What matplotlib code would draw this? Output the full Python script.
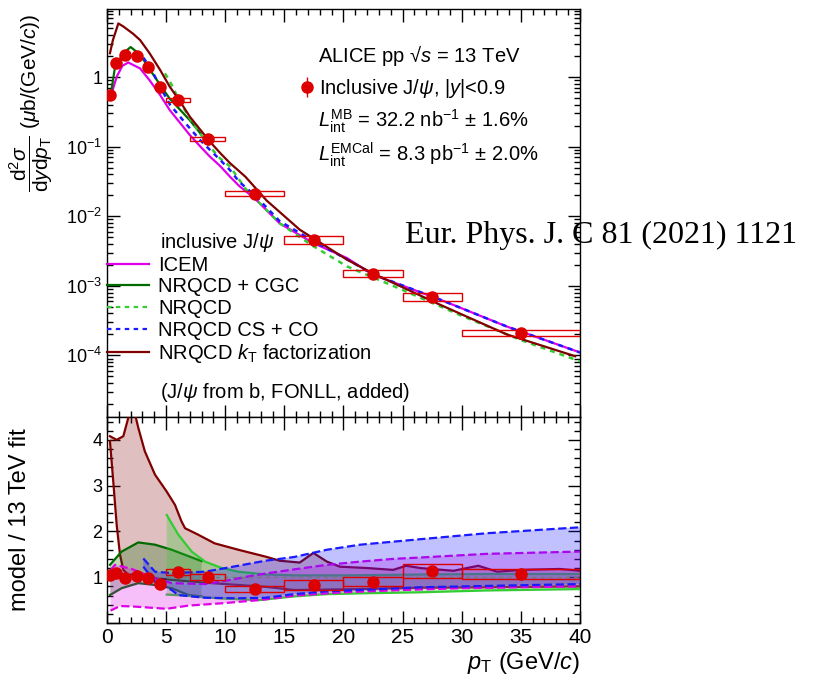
import numpy as np
import matplotlib
matplotlib.use('Agg')
import matplotlib.pyplot as plt
from matplotlib.ticker import MultipleLocator, LogLocator, FuncFormatter, NullFormatter
from matplotlib.patches import Rectangle
from matplotlib.lines import Line2D

plt.rcParams['font.family'] = ['Liberation Sans', 'DejaVu Sans']
plt.rcParams['mathtext.fontset'] = 'custom'
plt.rcParams['mathtext.rm'] = 'Liberation Sans'
plt.rcParams['mathtext.it'] = 'Liberation Sans:italic'
plt.rcParams['mathtext.bf'] = 'Liberation Sans:bold'

# ---- data: inclusive J/psi, pp 13 TeV
pt_lo = np.array([0, 0.5, 1, 2, 3, 4, 5, 7, 10, 15, 20, 25, 30])
pt_hi = np.array([0.5, 1, 2, 3, 4, 5, 7, 10, 15, 20, 25, 30, 40])
pt = np.array([0.25, 0.75, 1.5, 2.5, 3.5, 4.5, 6, 8.5, 12.5, 17.5, 22.5, 27.5, 35])
xsec = np.array([0.55, 1.59, 2.07, 2.0, 1.38, 0.72, 0.47, 0.128, 0.021, 0.0046, 0.0015, 6.9e-4, 2.1e-4])
stat_rel = np.array([0.10, 0.05, 0.03, 0.03, 0.03, 0.04, 0.03, 0.03, 0.11, 0.04, 0.05, 0.09, 0.12])
syst_rel = np.array([0.08, 0.08, 0.07, 0.07, 0.07, 0.07, 0.06, 0.066, 0.08, 0.12, 0.11, 0.13, 0.10])
ratio = np.array([1.05, 1.09, 0.98, 1.03, 0.98, 0.85, 1.12, 1.01, 0.74, 0.83, 0.90, 1.14, 1.07])

# ---- model curves (top panel)
icem_x = [0.39, 0.82, 1.3, 1.8, 2.8, 3.6, 4.5, 5.3, 6.2, 7.0, 7.9, 8.7, 9.6, 10.4, 11.2, 12.5, 14.6, 17.45, 20.3, 22.5, 28.2, 33.8, 40]
icem_y = [0.58, 1.01, 1.45, 1.62, 1.33, 0.9, 0.55, 0.336, 0.217, 0.147, 0.1, 0.072, 0.052, 0.037, 0.027, 0.018, 0.0079, 0.0041, 0.0025, 0.00144, 6.3e-4, 2.6e-4, 1.1e-4]
cgc_x = [0.25, 0.68, 1.38, 2.0, 2.8, 3.6, 4.5, 5.3, 6.2, 7.0, 7.9]
cgc_y = [0.47, 1.4, 2.2, 2.7, 2.1, 1.3, 0.77, 0.49, 0.336, 0.24, 0.155]
nrqcd_x = [4.9, 5.33, 6.17, 7.0, 7.86, 8.7, 9.55, 10.4, 11.7, 14.6, 17.45, 20.3, 25, 30, 35, 40]
nrqcd_y = [1.13, 0.86, 0.44, 0.255, 0.155, 0.1, 0.068, 0.052, 0.025, 0.0079, 0.0037, 0.0019, 8.7e-4, 3.7e-4, 1.66e-4, 8.2e-5]
csco_x = [3.07, 3.64, 4.48, 5.33, 6.17, 7.0, 7.86, 8.7, 9.55, 10.4, 11.2, 12.5, 14.6, 17.45, 20.3, 22.5, 28.2, 33.8, 40]
csco_y = [1.9, 1.4, 0.73, 0.4, 0.27, 0.184, 0.125, 0.09, 0.065, 0.046, 0.031, 0.02, 0.0085, 0.0044, 0.0024, 0.00146, 6.3e-4, 2.6e-4, 1.1e-4]
kt_x = [0.25, 0.5, 0.96, 1.4, 2.2, 2.8, 3.6, 4.5, 5.3, 6.2, 7.0, 7.9, 8.7, 9.6, 10.4, 11.7, 13.5, 16.3, 20.3, 22.5, 28, 33.8, 39.6]
kt_y = [2.2, 3.4, 5.9, 5.3, 4.2, 3.4, 2.2, 1.26, 0.73, 0.44, 0.27, 0.174, 0.118, 0.08, 0.058, 0.037, 0.0168, 0.0064, 0.00237, 0.0015, 5.5e-4, 2.0e-4, 9.7e-5]

# ---- model / fit bands (bottom panel)
kt_up_x = [0.25, 0.82, 1.38, 1.8, 2.2, 2.65, 3.2, 4.06, 5.05, 5.75, 6.3, 6.6, 7.7, 9.1, 11.1, 13.4, 14.6, 16.3, 17.45, 18.6, 19.7, 22, 24.2, 25.3, 26.5, 29.3, 31.4, 33, 35, 38.3, 40]
kt_up_y = [4.08, 4.0, 4.08, 4.48, 4.75, 4.26, 3.75, 3.24, 2.87, 2.58, 2.22, 2.07, 1.93, 1.74, 1.6, 1.45, 1.36, 1.32, 1.53, 1.34, 1.23, 1.2, 1.16, 1.25, 1.2, 1.14, 1.25, 1.12, 1.16, 1.18, 1.14]
kt_lo_x = [0.25, 0.53, 0.82, 1.1, 1.38, 1.8, 2.65, 4.06, 5.47, 8.3, 11.1, 13.4, 15.8, 21.4, 26.5, 32.1, 40]
kt_lo_y = [3.97, 3.09, 2.14, 1.49, 1.16, 1.05, 1.07, 0.98, 0.94, 0.88, 0.83, 0.79, 0.72, 0.74, 0.77, 0.78, 0.8]
cgc_up_x = [0.25, 1.24, 2.65, 4.06, 5.47, 7.7, 8.0]
cgc_up_y = [1.27, 1.56, 1.76, 1.71, 1.6, 1.38, 1.35]
cgc_lo_x = [0.25, 1.24, 2.65, 4.06, 5.47, 6.9, 8.0]
cgc_lo_y = [0.61, 0.76, 0.87, 0.83, 0.76, 0.61, 0.58]
nrqcd_up_x = [5.05, 6.03, 7.16, 8.3, 9.7, 11.1, 13.4, 16, 20, 27, 32, 40]
nrqcd_up_y = [2.36, 1.93, 1.56, 1.34, 1.2, 1.12, 1.06, 1.04, 1.04, 1.06, 1.07, 1.07]
nrqcd_lo_x = [5.05, 6.5, 8.3, 10, 12.9, 15.8, 18.6, 22, 26.5, 32.1, 40]
nrqcd_lo_y = [0.62, 0.6, 0.56, 0.53, 0.5, 0.58, 0.63, 0.65, 0.67, 0.71, 0.74]
csco_up_x = [3.07, 4.06, 5.47, 8.3, 11.1, 13.4, 15.8, 18.6, 21.4, 26.5, 32.1, 40]
csco_up_y = [1.41, 1.12, 1.09, 1.12, 1.25, 1.36, 1.44, 1.6, 1.71, 1.83, 1.96, 2.09]
csco_lo_x = [3.07, 4.06, 5.47, 6.03, 8.3, 11.1, 13.4, 15.8, 18.6, 21.4, 26.5, 40]
csco_lo_y = [1.23, 0.9, 0.72, 0.61, 0.55, 0.54, 0.55, 0.63, 0.69, 0.72, 0.78, 0.85]
icem_up_x = [0.3, 0.68, 2.09, 4.06, 5.47, 8.3, 10, 12, 13.4, 15.8, 18.6, 21.4, 24.2, 26.5, 32.1, 40]
icem_up_y = [1.15, 1.27, 1.18, 0.98, 0.87, 0.85, 0.92, 1.02, 1.08, 1.17, 1.27, 1.34, 1.40, 1.43, 1.51, 1.56]
icem_lo_x = [0.3, 1.1, 2.2, 5.05, 6.9, 9.7, 12.9, 16, 20, 25, 30, 40]
icem_lo_y = [0.27, 0.37, 0.36, 0.31, 0.38, 0.43, 0.5, 0.6, 0.67, 0.72, 0.76, 0.8]

c_icem = '#e000e8'
c_cgc = '#006a00'
c_nrqcd = '#33cc33'
c_csco = '#1a1aff'
c_kt = '#800000'
c_data = '#dd0000'
fs = 14.5

fig = plt.figure(figsize=(8.18, 6.79), dpi=100)
ax1 = fig.add_axes([0.1308, 0.3859, 0.5782, 0.6008])
ax2 = fig.add_axes([0.1308, 0.0825, 0.5782, 0.3034])

# top panel models
ax1.plot(icem_x, icem_y, color=c_icem, lw=1.6, zorder=3)
ax1.plot(cgc_x, cgc_y, color=c_cgc, lw=1.6, zorder=3)
ax1.plot(nrqcd_x, nrqcd_y, color=c_nrqcd, lw=1.8, ls=(0, (2, 2)), zorder=3)
ax1.plot(csco_x, csco_y, color=c_csco, lw=1.8, ls=(0, (2, 2)), zorder=3)
ax1.plot(kt_x, kt_y, color=c_kt, lw=1.6, zorder=3)

width = pt_hi - pt_lo
box_hw = np.where(width <= 1, 0.35 * width, 0.5 * width)

# top panel data
for x, y, s, hw in zip(pt, xsec, syst_rel, box_hw):
    ax1.add_patch(Rectangle((x - hw, y * (1 - s)), 2 * hw, 2 * y * s,
                            fill=False, ec=c_data, lw=1, zorder=4))
eb = ax1.errorbar(pt, xsec, yerr=xsec * stat_rel, fmt='o', color=c_data, ms=8,
                  elinewidth=1, capsize=0, zorder=5)

ax1.set_yscale('log')
ax1.set_xlim(0, 40)
ax1.set_ylim(1.3e-5, 9.5)
ax1.yaxis.set_major_locator(LogLocator(base=10, numticks=10))
ax1.yaxis.set_minor_locator(LogLocator(base=10, subs=np.arange(2, 10), numticks=20))
ax1.yaxis.set_major_formatter(FuncFormatter(
    lambda v, p: '1' if abs(v - 1) < 1e-9 else r'$10^{%d}$' % int(round(np.log10(v)))))
ax1.yaxis.set_minor_formatter(NullFormatter())
ax1.xaxis.set_major_locator(MultipleLocator(5))
ax1.xaxis.set_minor_locator(MultipleLocator(1))
ax1.tick_params(labelbottom=False)
ax1.set_ylabel(r'$\dfrac{\mathrm{d}^2\sigma}{\mathrm{d}y\mathrm{d}p_{\mathrm{T}}}$ ($\mu$b/(GeV/$c$))', fontsize=15)
ax1.yaxis.set_label_coords(-0.11, 0.77)

# texts top right
ax1.text(0.446, 0.885, r'ALICE pp √$s$ = 13 TeV', transform=ax1.transAxes, fontsize=fs, va='center')
ax1.text(0.446, 0.725, r'$L_{\mathrm{int}}^{\mathrm{MB}}$ = 32.2 nb$^{-1}$ ± 1.6%', transform=ax1.transAxes, fontsize=fs, va='center')
ax1.text(0.446, 0.642, r'$L_{\mathrm{int}}^{\mathrm{EMCal}}$ = 8.3 pb$^{-1}$ ± 2.0%', transform=ax1.transAxes, fontsize=fs, va='center')
leg_data = ax1.legend([eb], [r'Inclusive J/$\psi$, |$y$|<0.9'], loc='center left',
                      bbox_to_anchor=(0.41, 0.806), frameon=False, fontsize=fs,
                      handlelength=0.6, handletextpad=0.3, borderpad=0, borderaxespad=0)
ax1.add_artist(leg_data)

# model legend
handles = [Line2D([], [], color=c_icem, lw=1.6),
           Line2D([], [], color=c_cgc, lw=1.6),
           Line2D([], [], color=c_nrqcd, lw=1.6, ls=(0, (2, 2))),
           Line2D([], [], color=c_csco, lw=1.6, ls=(0, (2, 2))),
           Line2D([], [], color=c_kt, lw=1.6)]
labels = ['ICEM', 'NRQCD + CGC', 'NRQCD', 'NRQCD CS + CO', r'NRQCD $k_{\mathrm{T}}$ factorization']
ax1.legend(handles, labels, loc='upper left', bbox_to_anchor=(0.0, 0.395), frameon=False,
           fontsize=fs, handlelength=2.1, handletextpad=0.45, borderpad=0, borderaxespad=0,
           labelspacing=0.13)
ax1.text(0.112, 0.4265, r'inclusive J/$\psi$', transform=ax1.transAxes, fontsize=fs, va='center')
ax1.text(0.112, 0.061, r'(J/$\psi$ from b, FONLL, added)', transform=ax1.transAxes, fontsize=fs, va='center')

# bottom panel bands (drawn in sequence so later fills tint earlier lines)
bands = [(kt_up_x, kt_up_y, kt_lo_x, kt_lo_y, c_kt, 0.25, '-'),
         (cgc_up_x, cgc_up_y, cgc_lo_x, cgc_lo_y, c_cgc, 0.25, '-'),
         (nrqcd_up_x, nrqcd_up_y, nrqcd_lo_x, nrqcd_lo_y, c_nrqcd, 0.3, '-'),
         (icem_up_x, icem_up_y, icem_lo_x, icem_lo_y, c_icem, 0.25, '--'),
         (csco_up_x, csco_up_y, csco_lo_x, csco_lo_y, c_csco, 0.27, '--')]
for i, (ux, uy, lx, ly, col, a, ls) in enumerate(bands):
    ax2.fill(np.r_[ux, lx[::-1]], np.r_[uy, ly[::-1]], color=col, alpha=a, lw=0, zorder=2 + 2 * i)
    ax2.plot(ux, uy, color=col, lw=1.6, ls=ls, zorder=3 + 2 * i)
    ax2.plot(lx, ly, color=col, lw=1.6, ls=ls, zorder=3 + 2 * i)

ax2.axhline(1, color='#777777', lw=1, ls=(0, (3, 3)), zorder=13)
for x, r, s, hw in zip(pt, ratio, syst_rel, box_hw):
    ax2.add_patch(Rectangle((x - hw, r * (1 - s)), 2 * hw, 2 * r * s,
                            fill=False, ec=c_data, lw=1, zorder=14))
ax2.errorbar(pt, ratio, yerr=ratio * stat_rel, fmt='o', color=c_data, ms=8,
             elinewidth=1, capsize=0, zorder=15)

ax2.set_xlim(0, 40)
ax2.set_ylim(0, 4.5)
ax2.yaxis.set_major_locator(MultipleLocator(1))
ax2.yaxis.set_minor_locator(MultipleLocator(0.2))
ax2.yaxis.set_major_formatter(FuncFormatter(lambda v, p: '' if v < 0.5 else '%d' % v))
ax2.xaxis.set_major_locator(MultipleLocator(5))
ax2.xaxis.set_minor_locator(MultipleLocator(1))
ax2.set_ylabel('model / 13 TeV fit', fontsize=17)
ax2.yaxis.set_label_coords(-0.16, 0.5)
ax2.set_xlabel(r'$p_{\mathrm{T}}$ (GeV/$c$)', fontsize=17, loc='right', labelpad=2)

for ax in (ax1, ax2):
    ax.tick_params(which='both', direction='in', top=True, right=True, width=1)
    ax.tick_params(axis='y', labelsize=13)
    ax.tick_params(axis='x', labelsize=15)
    ax.tick_params(which='major', length=9)
    ax.tick_params(which='minor', length=4.5)
    for sp in ax.spines.values():
        sp.set_linewidth(1)

fig.text(405 / 818, 1 - 235 / 679, 'Eur. Phys. J. C 81 (2021) 1121', fontsize=23,
         family='Liberation Serif', va='center', ha='left')

fig.savefig('out.png', dpi=100)
